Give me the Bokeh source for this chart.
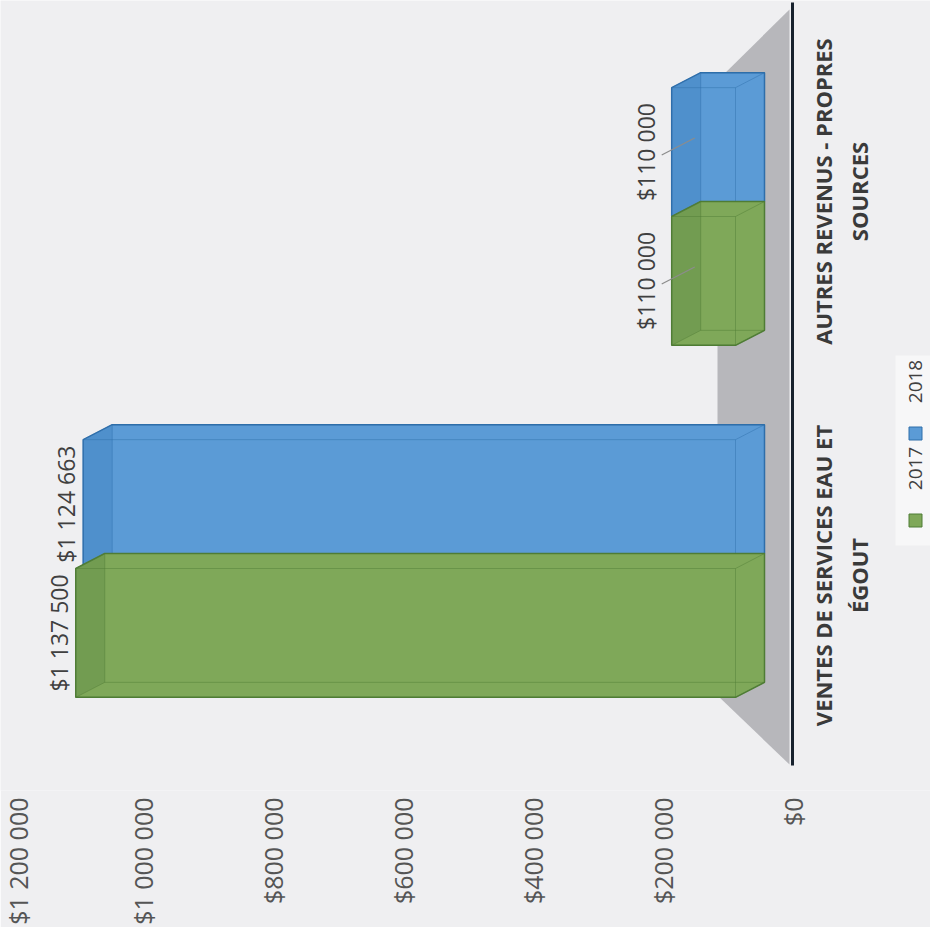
import math
from bokeh.plotting import figure
from bokeh.models import Range1d, LinearAxis, FixedTicker
from bokeh.core.properties import value
from bokeh.embed import file_html
from bokeh.resources import INLINE

# ---------------- data ----------------
CATEGORIES = ["VENTES DE SERVICES EAU ET\nÉGOUT", "AUTRES REVENUS - PROPRES\nSOURCES"]
YEARS = ["2017", "2018"]
VALUES_2017 = [1137500, 110000]
VALUES_2018 = [1124663, 110000]
TICKS = [0, 200000, 400000, 600000, 800000, 1000000, 1200000]
TICK_LABELS = ["$0", "$200 000", "$400 000", "$600 000", "$800 000", "$1 000 000", "$1 200 000"]

# ---------------- style / layout ----------------
BG = "#efeff1"
FILL = {"2017": "#7fa859", "2018": "#5b9bd6"}
CAP = {"2017": "#5f8a45", "2018": "#3f7fbf"}
EDGE = {"2017": "#4f7d36", "2018": "#2f6eaa"}
FONT = "Open Sans"

OFF = 8                      # page margin
FW, FH = 930, 790            # frame size
MAIN_ZERO = 743              # page px of value 0 for the bars (front face)
MAIN_SCALE = 580e-6          # px per unit
AXIS_ZERO = 800              # page px of value 0 on the axis plane
AXIS_SCALE = 650e-6
Y0 = 576                     # page px of category 0
YS = 352                     # px per category
DX, DY = 29, -15             # depth offset of the back faces (px)
BAR_H = 0.366


def mx(px):
    return (MAIN_ZERO - px) / MAIN_SCALE


def axx(px):
    return (AXIS_ZERO - px) / AXIS_SCALE


def my(py):
    return (Y0 - py) / YS


def vpx(v):
    return MAIN_ZERO - v * MAIN_SCALE


def ypx(y):
    return Y0 - y * YS


p = figure(width=930, height=935, frame_width=FW, frame_height=FH,
           x_range=Range1d(mx(OFF), mx(OFF + FW)),
           y_range=Range1d(my(OFF + FH), my(OFF)),
           output_backend="svg", toolbar_location=None,
           x_axis_location=None, y_axis_location=None,
           min_border=0, background_fill_color=BG, border_fill_color=BG,
           outline_line_color=None)
for g in p.grid:
    g.visible = False
p.extra_x_ranges = {"axis": Range1d(axx(OFF), axx(OFF + FW))}

axis = LinearAxis(x_range_name="axis", ticker=FixedTicker(ticks=TICKS),
                  major_label_overrides={t: l for t, l in zip(TICKS, TICK_LABELS)},
                  major_label_orientation=math.pi / 2,
                  axis_line_color=None, major_tick_line_color=None,
                  minor_tick_line_color=None, major_tick_in=0, major_tick_out=0,
                  major_label_standoff=7, major_label_text_font=FONT,
                  major_label_text_font_size="25px",
                  major_label_text_color="#555555")
p.add_layout(axis, "below")

# floor (3D depth plane)
p.patch([mx(797), mx(725), mx(725), mx(797)], [my(17), my(88), my(703), my(772)],
        fill_color="#b7b7bb", line_color=None)

# baseline at value 0 on the axis plane
p.segment(x0=[0], x1=[0], y0=[my(10)], y1=[my(773)], x_range_name="axis",
          line_color="#17212d", line_width=3)

o = DX / MAIN_SCALE
d = -DY / YS

label_gap = [-17, -26]
series = [("2018", VALUES_2018, 1), ("2017", VALUES_2017, 0)]
for i, cat in enumerate(CATEGORIES):
    for year, vals, j in series:
        v = vals[i]
        yc = i + (j - 0.5) * BAR_H
        xl, xr = v, 0
        yb, yt = yc - BAR_H / 2, yc + BAR_H / 2
        hx = [xl, xr, xr - o, xr - o, xl - o, xl]
        hy = [yb, yb, yb + d, yt + d, yt + d, yt]
        p.patch(hx, hy, fill_color=FILL[year], line_color=EDGE[year], line_width=1.5)
        p.patch([xl, xl, xl - o, xl - o], [yb, yt, yt + d, yb + d],
                fill_color=CAP[year], fill_alpha=0.4, line_color=None)
        p.multi_line(
            [[xl, xr, xr, xl, xl], [xl - o, xr - o, xr - o, xl - o, xl - o],
             [xl, xl - o], [xr, xr - o], [xr, xr - o], [xl, xl - o]],
            [[yb, yb, yt, yt, yb], [yb + d, yb + d, yt + d, yt + d, yb + d],
             [yb, yb + d], [yb, yb + d], [yt, yt + d], [yt, yt + d]],
            line_color=EDGE[year], line_alpha=0.45, line_width=1)
        # value label
        txt = "$" + f"{v:,}".replace(",", " ")
        p.text(x=[v], y=[yc], text=[txt], angle=math.pi / 2, x_offset=label_gap[i],
               text_align="center", text_baseline="middle",
               text_font=value(FONT), text_font_size="23px", text_color="#404040")
        if i == 1:
            lx, ly = vpx(v) + label_gap[i], ypx(yc)
            p.segment(x0=[mx(lx + 16)], y0=[my(ly + 3)], x1=[mx(lx + 49)], y1=[my(ly - 14)],
                      line_color="#8c8c8c", line_width=1.2)

# category labels
cat_offsets = [7, -25]
for i, cat in enumerate(CATEGORIES):
    p.text(x=[mx(848)], y=[i], text=[cat], angle=math.pi / 2, y_offset=cat_offsets[i],
           text_align="center", text_baseline="middle", text_line_height=1.2,
           text_font=value(FONT), text_font_style="bold", text_font_size="22px",
           text_color="#3a3a3a")

# legend (rotated)
p.quad(left=[mx(903)], right=[mx(950)], top=[my(363)], bottom=[my(553)],
       fill_color="#f7f7f8", line_color=None)
for j, year in enumerate(YEARS):
    sq = 528 - j * 87
    p.rect(x=[mx(923)], y=[my(sq)], width=13, height=13, width_units="screen",
           height_units="screen", fill_color=FILL[year], line_color=EDGE[year])
    p.text(x=[mx(923)], y=[my(sq - 52)], text=[year], angle=math.pi / 2,
           text_align="center", text_baseline="middle",
           text_font=value(FONT), text_font_size="19px", text_color="#404040")

open("out.html", "w").write(file_html(p, INLINE))
